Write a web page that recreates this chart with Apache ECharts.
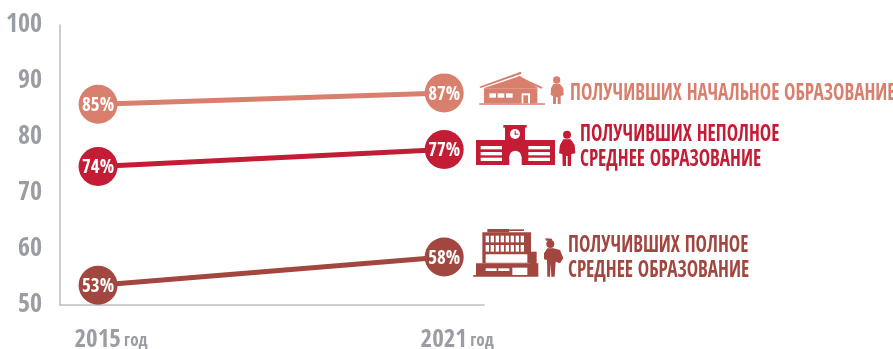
<!DOCTYPE html>
<html><head><meta charset="utf-8">
<style>html,body{margin:0;padding:0;background:#fff}#c{width:893px;height:349px}</style>
<script src="https://cdn.jsdelivr.net/npm/echarts@6/dist/echarts.min.js"></script>
</head><body><div id="c"></div>
<script>
const years = [2015, 2021];
const yearSuffix = 'год';
const primary = [85, 87];
const incomplete = [74, 77];
const complete = [53, 58];
const yTicks = [50, 60, 70, 80, 90, 100];
const labelPrimary = ['ПОЛУЧИВШИХ НАЧАЛЬНОЕ ОБРАЗОВАНИЕ'];
const labelIncomplete = ['ПОЛУЧИВШИХ НЕПОЛНОЕ', 'СРЕДНЕЕ ОБРАЗОВАНИЕ'];
const labelComplete = ['ПОЛУЧИВШИХ ПОЛНОЕ', 'СРЕДНЕЕ ОБРАЗОВАНИЕ'];

const C1 = '#D87F6E', C2 = '#C21D34', C3 = '#A2473F', GR = '#9A9DA3';
const FONT = '"Open Sans Condensed","Roboto Condensed",sans-serif';

const chart = echarts.init(document.getElementById('c'), null, {renderer: 'canvas'});

function mk(name, data, color) {
  return {
    name, type: 'line', data: data.map((v, i) => [years[i], v]), yAxisIndex: 1,
    symbol: 'circle', symbolSize: 39, z: 3,
    lineStyle: {color, width: 5}, itemStyle: {color},
    label: {show: true, position: 'inside', offset: [0, 2], color: '#fff', fontFamily: FONT, fontWeight: 'bold', fontSize: 19,
      formatter: p => p.value[1] + '%'},
    emphasis: {disabled: true}, animation: false
  };
}

// Icon pieces are given in the reference's 3x crop space, from an origin
function rects(ox, oy, list, fill) {
  return list.map(r => ({type: 'rect', silent: true, z: r[4] || 10,
    shape: {x: ox + r[0] / 3, y: oy + r[1] / 3, width: (r[2] - r[0]) / 3, height: (r[3] - r[1]) / 3}, style: {fill}}));
}
function poly(ox, oy, pts, fill, z) {
  return {type: 'polygon', silent: true, z: z || 10, shape: {points: pts.map(p => [ox + p[0] / 3, oy + p[1] / 3])}, style: {fill}};
}
function circ(ox, oy, x, y, r, fill, z) {
  return {type: 'circle', silent: true, z: z || 10, shape: {cx: ox + x / 3, cy: oy + y / 3, r: r / 3}, style: {fill}};
}
function txt(x, y, lines, fill) {
  return lines.map((t, i) => ({type: 'text', silent: true, z: 10, x, y: y + i * 25, scaleX: 0.8,
    style: {text: t, fill, font: 'bold 24px ' + FONT, textVerticalAlign: 'middle'}}));
}
const WHITE = '#fff';
const graphics = [
  // house
  ...rects(470, 60, [[42, 85, 202, 130], [28, 130, 225, 134]], C1),
  poly(470, 60, [[28, 80], [152, 35], [155, 41], [32, 84]], C1),
  poly(470, 60, [[40, 85], [150, 48], [205, 85]], C1),
  poly(470, 60, [[140, 53], [145, 48], [218, 82], [214, 86]], C1),
  ...rects(470, 60, [[58, 100, 78, 113], [83, 100, 103, 113], [108, 100, 128, 113], [155, 100, 180, 130]], WHITE).map(o => ({...o, z: 11})),
  ...rects(470, 60, [[160, 106, 174, 130]], C1).map(o => ({...o, z: 12})),
  // person 1
  circ(470, 60, 260, 60, 11, C1),
  poly(470, 60, [[250, 72], [270, 72], [280, 85], [281, 105], [272, 108], [272, 132], [263, 132], [263, 112], [258, 112], [258, 132], [249, 132], [249, 108], [242, 105], [243, 85]], C1),
  // school
  ...rects(470, 60, [[18, 240, 255, 315], [105, 200, 165, 315], [100, 195, 170, 203]], C2),
  ...rects(470, 60, [[32, 258, 96, 268], [32, 276, 96, 286], [32, 293, 96, 303], [175, 258, 240, 268], [175, 276, 240, 286], [175, 293, 240, 303], [118, 290, 155, 315]], WHITE).map(o => ({...o, z: 11})),
  circ(470, 60, 136, 290, 18, WHITE, 11),
  circ(470, 60, 135, 222, 15, WHITE, 11),
  ...rects(470, 60, [[134, 212, 137, 224], [134, 221, 145, 224]], C2).map(o => ({...o, z: 12})),
  // person 2
  circ(470, 60, 291, 224, 12, C2),
  poly(470, 60, [[280, 238], [302, 238], [314, 255], [316, 280], [304, 282], [303, 318], [293, 318], [293, 288], [288, 288], [288, 318], [278, 318], [277, 282], [267, 280], [270, 255]], C2),
  // building
  ...rects(470, 220, [[37, 37, 183, 130], [52, 27, 118, 37], [118, 28, 162, 33], [18, 130, 205, 165], [180, 95, 200, 165], [10, 165, 205, 170]], C3),
  ...rects(470, 220, [[47, 103, 172, 128], [47, 145, 80, 153], [85, 145, 118, 153], [127, 143, 172, 165]], WHITE).map(o => ({...o, z: 11})),
  ...[47, 62, 77, 92, 107, 122, 137, 152].flatMap(x => rects(470, 220, [[x, 47, x + 10, 67], [x, 75, x + 10, 95]], WHITE)).map(o => ({...o, z: 11})),
  // person 3
  circ(470, 220, 241, 72, 12, C3),
  poly(470, 220, [[226, 55], [246, 56], [246, 62], [228, 62]], C3),
  poly(470, 220, [[232, 85], [250, 85], [270, 90], [280, 115], [270, 130], [257, 125], [254, 170], [244, 170], [242, 130], [240, 170], [232, 170], [231, 120], [222, 118], [222, 100]], C3),
  // labels
  ...txt(570, 94, labelPrimary, C1),
  ...txt(580, 135, labelIncomplete, C2),
  ...txt(568, 246, labelComplete, C3)
];

chart.setOption({
  animation: false,
  grid: {left: 60, top: 25, width: 424, height: 280, outerBoundsMode: 'none'},
  xAxis: {
    type: 'value', min: 2014.34, max: 2021.69,
    splitLine: {show: false}, axisTick: {show: false},
    axisLine: {show: true, onZero: false, lineStyle: {color: '#BDBDBD', width: 1.5}},
    axisLabel: {
      customValues: years, margin: 23, padding: [0, 0, 0, 26],
      formatter: v => '{y|' + v + '} {s|' + yearSuffix + '}',
      rich: {y: {fontFamily: FONT, fontWeight: 'bold', fontSize: 25, color: GR},
             s: {fontFamily: FONT, fontWeight: 'bold', fontSize: 17, color: GR, padding: [2, 0, 0, 0]}}
    }
  },
  yAxis: [{
    type: 'value', min: yTicks[0], max: yTicks[yTicks.length - 1], interval: 10,
    splitLine: {show: false}, axisTick: {show: false},
    axisLine: {show: true, lineStyle: {color: '#BDBDBD', width: 1.5}},
    axisLabel: {color: GR, fontFamily: FONT, fontWeight: 'bold', fontSize: 26, margin: 18, padding: [2, 0, 0, 0]}
  }, {
    // the plotted circles sit slightly below the printed tick scale in the source
    type: 'value', min: 49.5, max: 99, show: false, splitLine: {show: false}
  }],
  series: [mk('primary', primary, C1), mk('incomplete', incomplete, C2), mk('complete', complete, C3)],
  graphic: graphics
});
</script></body></html>
